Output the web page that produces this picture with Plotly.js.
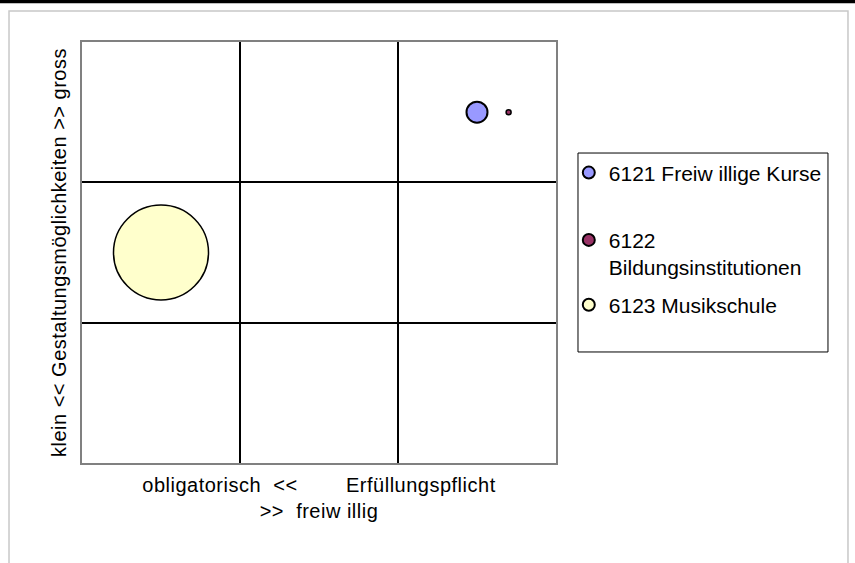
<!DOCTYPE html>
<html>
<head>
<meta charset="utf-8">
<script src="https://cdn.plot.ly/plotly-3.0.1.min.js"></script>
<style>
html,body{margin:0;padding:0;background:#fff;}
#chart .g-xtitle text, #chart .g-ytitle text { letter-spacing: 0.5px; }
</style>
</head>
<body>
<div id="chart" style="width:855px;height:563px;"></div>
<script>
// Series (name, position on the 3x3 grid, bubble size)
const seriesNames = ["6121 Freiw illige Kurse", "6122<br>Bildungsinstitutionen", "6123 Musikschule"];
const seriesX = [[2.5], [2.7], [0.5]];
const seriesY = [[2.5], [2.5], [1.5]];
const seriesSize = [[441], [25], [9025]];
const seriesColors = ["#9999FF", "#993366", "#FFFFCC"];
const seriesLineWidths = [2, 1.5, 1.5];

const xTitle = "obligatorisch\u00a0\u00a0&lt;&lt;\u00a0\u00a0\u00a0\u00a0\u00a0\u00a0\u00a0\u00a0Erfüllungspflicht<br>&gt;&gt;\u00a0\u00a0freiw illig";
const yTitle = "klein &lt;&lt; Gestaltungsmöglichkeiten &gt;&gt; gross";

const FONT = "Liberation Sans, Arial, sans-serif";
const FS = 20;
const legendIds = ["legend", "legend2", "legend3"];

const traces = seriesNames.map((n, i) => ({
  type: "scatter",
  mode: "markers",
  name: n,
  x: seriesX[i],
  y: seriesY[i],
  legend: legendIds[i],
  marker: {
    size: seriesSize[i],
    sizemode: "area",
    sizeref: 2,
    color: seriesColors[i],
    opacity: 1,
    line: {color: "#000000", width: seriesLineWidths[i]}
  },
  hoverinfo: "name"
}));

const legendBase = {
  x: 1.027, xanchor: "left",
  bgcolor: "rgba(0,0,0,0)", borderwidth: 0,
  itemsizing: "constant",
  font: {family: FONT, size: 21, color: "#000"},
  valign: "top"
};

const layout = {
  width: 855, height: 563,
  margin: {l: 82, r: 299, t: 42, b: 100, pad: 0},
  paper_bgcolor: "#ffffff",
  plot_bgcolor: "#ffffff",
  font: {family: FONT, size: FS, color: "#000"},
  showlegend: true,
  legend: Object.assign({}, legendBase, {y: 0.689, yanchor: "middle"}),
  legend2: Object.assign({}, legendBase, {y: 0.497, yanchor: "middle"}),
  legend3: Object.assign({}, legendBase, {y: 0.375, yanchor: "middle"}),
  xaxis: {
    range: [0, 3], dtick: 1, tick0: 0,
    showticklabels: false, ticks: "",
    showgrid: true, gridcolor: "#000000", gridwidth: 2,
    zeroline: false,
    showline: true, mirror: true, linecolor: "#808080", linewidth: 2,
    fixedrange: true,
    title: {text: xTitle, font: {family: FONT, size: FS, color: "#000"}, standoff: 14}
  },
  yaxis: {
    range: [0, 3], dtick: 1, tick0: 0,
    showticklabels: false, ticks: "",
    showgrid: true, gridcolor: "#000000", gridwidth: 2,
    zeroline: false,
    showline: true, mirror: true, linecolor: "#808080", linewidth: 2,
    fixedrange: true,
    title: {text: yTitle, font: {family: FONT, size: FS, color: "#000"}, standoff: 8}
  },
  shapes: [
    // top black bar
    {type: "rect", xref: "paper", yref: "paper", x0: -0.2, x1: 1.7, y0: 1.092, y1: 1.11,
     fillcolor: "#000000", line: {width: 0}, layer: "below"},
    // outer light frame
    {type: "rect", xref: "paper", yref: "paper", x0: -0.154, x1: 1.616, y0: -0.3, y1: 1.0736,
     fillcolor: "rgba(0,0,0,0)", line: {color: "#C8C8C8", width: 1.5}, layer: "below"},
    // legend box
    {type: "rect", xref: "paper", yref: "paper", x0: 1.0464, x1: 1.5738, y0: 0.2637, y1: 0.7363,
     fillcolor: "rgba(0,0,0,0)", line: {color: "#000000", width: 1}, layer: "above"}
  ]
};

Plotly.newPlot("chart", traces, layout, {displayModeBar: false, staticPlot: true});
</script>
</body>
</html>
